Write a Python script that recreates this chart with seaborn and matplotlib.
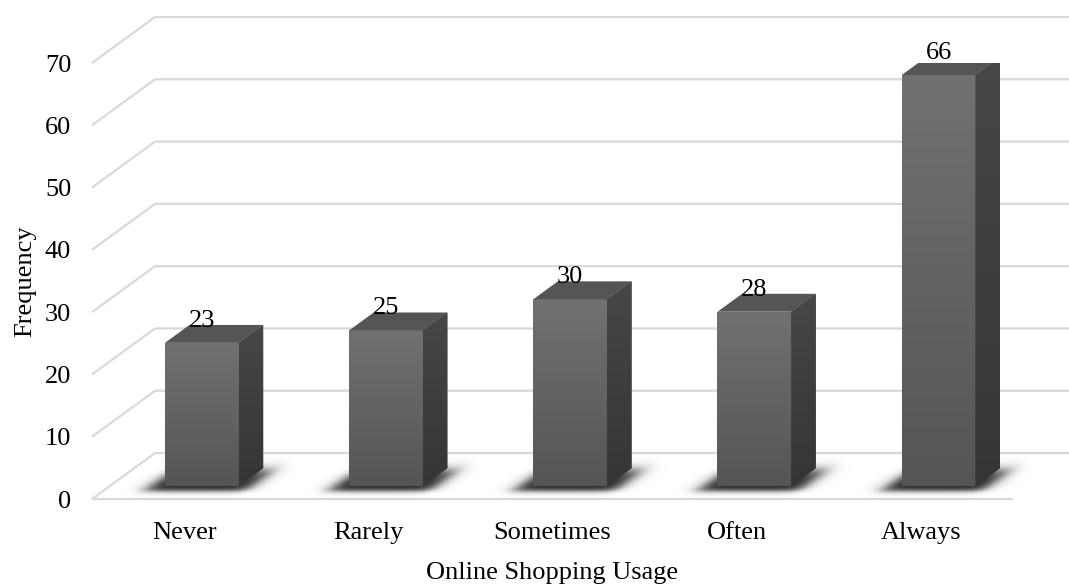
import numpy as np
import pandas as pd
import matplotlib
matplotlib.use("Agg")
import matplotlib.pyplot as plt
import seaborn as sns
from matplotlib.patches import Polygon
from matplotlib.colors import LinearSegmentedColormap

# ---- data -------------------------------------------------------------
categories = ["Never", "Rarely", "Sometimes", "Often", "Always"]
frequency = [23, 25, 30, 28, 66]
y_ticks = [0, 10, 20, 30, 40, 50, 60, 70]
x_title = "Online Shopping Usage"
y_title = "Frequency"

# ---- style ------------------------------------------------------------
sns.set_theme(style="white")
plt.rcParams["font.family"] = ["Liberation Serif", "DejaVu Serif"]
FS = 19

GRID = "#d9d9d9"
TOP = "#555555"
front_cmap = LinearSegmentedColormap.from_list("front", ["#555555", "#717171"])
side_cmap = LinearSegmentedColormap.from_list("side", ["#353535", "#474747"])

# oblique projection: full floor depth expressed in data units
WALL_DX, WALL_DY = 0.342, 7.38
BAR_FRONT, BAR_BACK = 0.28, 0.67   # fractions of the floor depth
BAR_WIDTH = 0.40

fig = plt.figure(figsize=(10.69, 5.86), dpi=100)
ax = fig.add_axes([92 / 1069, 87 / 586, 921 / 1069, 436 / 586])

df = pd.DataFrame({"category": categories, "frequency": frequency})
sns.barplot(data=df, x="category", y="frequency", order=categories,
            width=BAR_WIDTH, color="#606060", saturation=1, ax=ax, zorder=3)

XLIM, YLIM = (-0.5, len(categories) - 0.5), (0, y_ticks[-1])
ax.set_xlim(*XLIM)
ax.set_ylim(*YLIM)

# ---- back wall / floor gridlines --------------------------------------
for v in y_ticks:
    ax.plot([XLIM[0], XLIM[0] + WALL_DX, XLIM[1] + 0.6],
            [v, v + WALL_DY, v + WALL_DY],
            color=GRID, lw=1.6, clip_on=False, zorder=0,
            solid_joinstyle="miter", solid_capstyle="butt")
ax.plot([XLIM[0], XLIM[1]], [0, 0], color=GRID, lw=1.6,
        clip_on=False, zorder=0, solid_capstyle="butt")

# pixel scale of the data axes (for an isotropic soft shadow)
fig.canvas.draw()
p0 = ax.transData.transform((0, 0))
sx = ax.transData.transform((1, 0))[0] - p0[0]
sy = ax.transData.transform((0, 1))[1] - p0[1]

fdx, fdy = BAR_FRONT * WALL_DX, BAR_FRONT * WALL_DY
sdx, sdy = (BAR_BACK - BAR_FRONT) * WALL_DX, (BAR_BACK - BAR_FRONT) * WALL_DY
skew = (sdx * sx) / (sdy * sy)


def soft(t, s=5.0):
    return 0.5 * (1 + np.tanh(t / s))


grad = np.linspace(0, 1, 256).reshape(-1, 1)
bars = [p for p in ax.patches]
for rect, val in zip(bars, frequency):
    x0 = rect.get_x() + fdx
    w = rect.get_width()
    y0 = fdy
    h = val
    rect.set_x(x0)
    rect.set_y(y0)
    rect.set_linewidth(0)
    x1 = x0 + w

    # front face gradient
    im = ax.imshow(grad, extent=[x0, x1, y0, y0 + h], cmap=front_cmap,
                   origin="lower", aspect="auto", zorder=3.1,
                   interpolation="bilinear")
    im.set_clip_path(rect)

    # side face
    side = Polygon([(x1, y0), (x1 + sdx, y0 + sdy), (x1 + sdx, y0 + sdy + h),
                    (x1, y0 + h)], closed=True, facecolor="#3d3d3d",
                   edgecolor="none", zorder=3)
    ax.add_patch(side)
    ims = ax.imshow(grad, extent=[x1, x1 + sdx, y0, y0 + sdy + h],
                    cmap=side_cmap, origin="lower", aspect="auto",
                    zorder=3.1, interpolation="bilinear")
    ims.set_clip_path(side)

    # top face
    ax.add_patch(Polygon([(x0, y0 + h), (x1, y0 + h),
                          (x1 + sdx, y0 + h + sdy), (x0 + sdx, y0 + h + sdy)],
                         closed=True, facecolor=TOP, edgecolor="none",
                         zorder=3.2))

    # soft drop shadow under the bar footprint
    ex0, ex1 = x0 - 0.4, x1 + sdx + 0.4
    ey0, ey1 = y0 - 4.0, y0 + sdy + 5.0
    gx = np.linspace(ex0, ex1, 300)
    gy = np.linspace(ey0, ey1, 120)
    GX, GY = np.meshgrid(gx, gy)
    X = (GX - x0) * sx
    Y = (GY - y0) * sy
    Xs = X - skew * Y
    wpx = w * sx
    dpx = sdy * sy
    alpha = (soft(Xs + 14, 10.0) * soft(wpx + 14 - Xs, 10.0) *
             soft(Y + 5, 3.0) * soft(dpx - 2 - Y, 6.0)) * 0.95
    rgba = np.zeros(alpha.shape + (4,))
    rgba[..., :3] = 0.1
    rgba[..., 3] = alpha
    ax.imshow(rgba, extent=[ex0, ex1, ey0, ey1], origin="lower",
              aspect="auto", zorder=2, interpolation="bilinear",
              clip_on=False)

    # value label sitting on the bar top
    ax.text(x0 + w / 2, h + BAR_BACK * WALL_DY - 0.3, f"{val}",
            ha="center", va="baseline", fontsize=FS, color="black", zorder=5)

ax.set_xlim(*XLIM)
ax.set_ylim(*YLIM)

# ---- axes text ---------------------------------------------------------
ax.set_yticks(y_ticks)
ax.set_yticklabels([str(t) for t in y_ticks])
ax.tick_params(axis="y", length=0, pad=15, labelsize=FS, colors="black")
ax.tick_params(axis="x", length=0, pad=16.5, labelsize=FS, colors="black")
ax.set_xlabel(x_title, fontsize=FS, labelpad=13, color="black")
ax.set_ylabel(y_title, fontsize=FS, labelpad=6, color="black")
for s in ax.spines.values():
    s.set_visible(False)
ax.set_facecolor("none")
ax.grid(False)

fig.savefig("out.png", dpi=100, facecolor="white")
